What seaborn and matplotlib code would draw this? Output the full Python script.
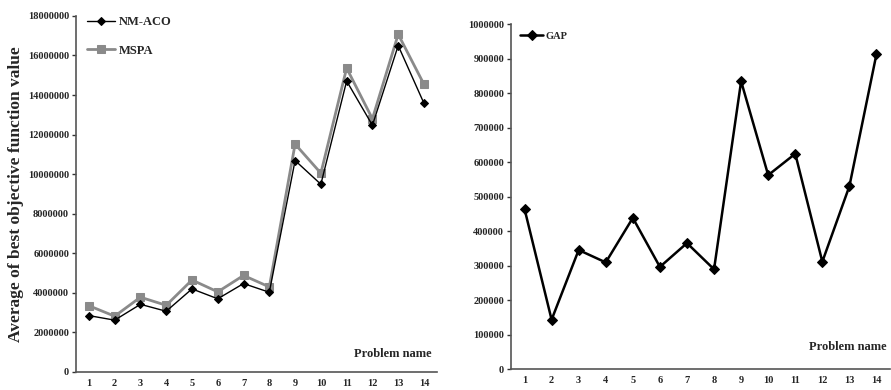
import matplotlib
matplotlib.use("Agg")
import matplotlib.pyplot as plt
import seaborn as sns
import pandas as pd
import numpy as np

problems = list(range(1, 15))
nm_aco = [2850000, 2620000, 3420000, 3070000, 4200000, 3700000, 4470000, 4030000,
          10690000, 9490000, 14710000, 12470000, 16500000, 13580000]
mspa = [3350000, 2820000, 3780000, 3370000, 4650000, 4050000, 4880000, 4300000,
        11520000, 10050000, 15360000, 12800000, 17070000, 14540000]
gap = [464000, 143000, 345000, 309000, 438000, 296000, 365000, 289000,
       834000, 562000, 624000, 311000, 530000, 913000]

sns.set_theme(style="white")
plt.rcParams['font.family'] = ['Liberation Serif', 'DejaVu Serif']
plt.rcParams['font.weight'] = 'bold'

fig = plt.figure(figsize=(8.91, 3.9), dpi=100)
ax1 = fig.add_axes([0.0853, 0.0462, 0.405, 0.913])
ax2 = fig.add_axes([0.5735, 0.0538, 0.4254, 0.8846])

df1 = pd.DataFrame({"Problem": problems, "NM-ACO": nm_aco, "MSPA": mspa})

sns.lineplot(data=df1, x="Problem", y="NM-ACO", ax=ax1, color="black", lw=1.0,
             marker="D", markersize=4.5, markeredgecolor="black", label="NM-ACO")
sns.lineplot(data=df1, x="Problem", y="MSPA", ax=ax1, color="#8a8a8a", lw=2.0,
             marker="s", markersize=6, markeredgecolor="#8a8a8a", label="MSPA", zorder=1)

df2 = pd.DataFrame({"Problem": problems, "GAP": gap})
sns.lineplot(data=df2, x="Problem", y="GAP", ax=ax2, color="black", lw=1.8,
             marker="D", markersize=5.5, markeredgecolor="black", label="GAP")

for ax, ymax, step in [(ax1, 18000000, 2000000), (ax2, 1000000, 100000)]:
    ax.set_xlim(0.5, 14.5)
    ax.set_ylim(0, ymax)
    ax.set_yticks(np.arange(0, ymax + 1, step))
    ax.set_yticklabels([f"{int(v)}" for v in np.arange(0, ymax + 1, step)],
                       fontsize=7.5, fontweight="bold")
    ax.set_xticks(problems)
    ax.set_xticklabels([str(p) for p in problems], fontsize=7.5, fontweight="bold")
    ax.set_xticks(np.arange(0.5, 15, 1), minor=True)
    ax.tick_params(axis="x", which="major", length=0, pad=5)
    ax.tick_params(axis="x", which="minor", length=3, direction="out", color="#333333", width=1)
    ax.tick_params(axis="y", which="major", length=3, direction="out", color="#333333", width=1, pad=2, left=True)
    for s in ["top", "right"]:
        ax.spines[s].set_visible(False)
    for s in ["left", "bottom"]:
        ax.spines[s].set_color("#555555")
        ax.spines[s].set_linewidth(1.2)
    ax.set_xlabel("")
    ax.set_ylabel("")
    ax.grid(False)

ax1.set_ylabel("Average of best objective function value", fontsize=12.5,
               fontweight="bold", labelpad=3)
ax1.text(0.985, 0.035, "Problem name", transform=ax1.transAxes, ha="right", va="bottom",
         fontsize=9, fontweight="bold")
ax2.text(0.99, 0.045, "Problem name", transform=ax2.transAxes, ha="right", va="bottom",
         fontsize=9, fontweight="bold")

leg1 = ax1.legend(loc="upper left", bbox_to_anchor=(0.0, 1.03), frameon=False,
                  prop={"weight": "bold", "size": 9}, handlelength=2.2,
                  labelspacing=1.3, handletextpad=0.3)
leg2 = ax2.legend(loc="upper left", bbox_to_anchor=(0.0, 1.005), frameon=False,
                  prop={"weight": "bold", "size": 7.5}, handlelength=2.2,
                  handletextpad=0.2)

fig.savefig("out.png", dpi=100)
